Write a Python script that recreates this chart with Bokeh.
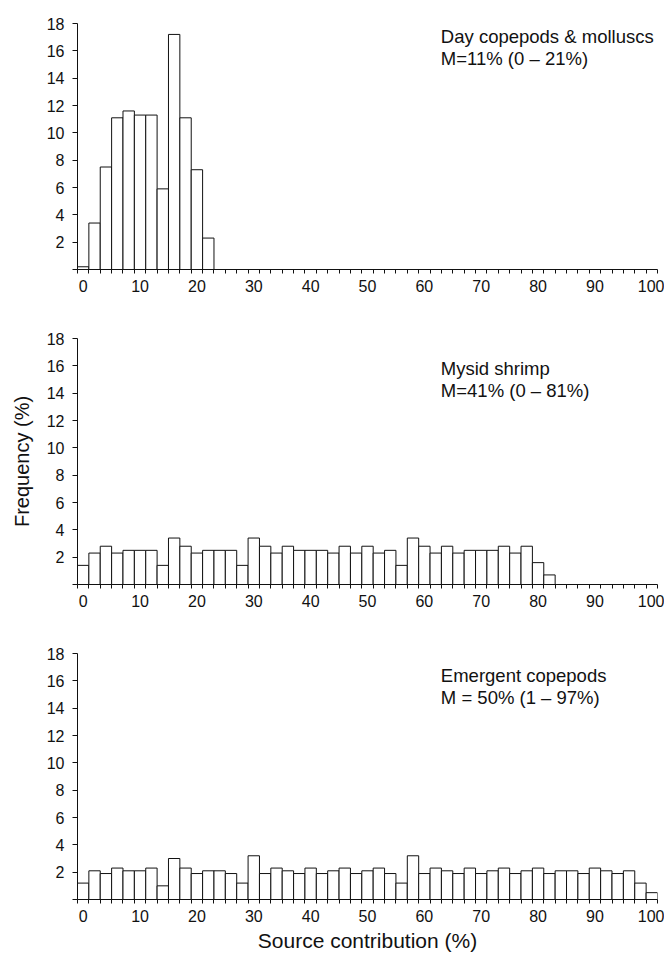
from bokeh.plotting import figure
from bokeh.layouts import column
from bokeh.models import Range1d, FixedTicker, Label, ColumnDataSource
from bokeh.embed import file_html
from bokeh.resources import INLINE

# Category bins (source contribution, %), each bin 2 units wide
day_bins = [0, 2, 4, 6, 8, 10, 12, 14, 16, 18, 20, 22]
day_freq = [0.2, 3.4, 7.5, 11.1, 11.6, 11.3, 11.3, 5.9, 17.2, 11.1, 7.3, 2.3]

mysid_bins = [0, 2, 4, 6, 8, 10, 12, 14, 16, 18, 20, 22, 24, 26, 28, 30, 32, 34,
              36, 38, 40, 42, 44, 46, 48, 50, 52, 54, 56, 58, 60, 62, 64, 66, 68,
              70, 72, 74, 76, 78, 80, 82]
mysid_freq = [1.4, 2.3, 2.8, 2.3, 2.5, 2.5, 2.5, 1.4, 3.4, 2.8,
              2.3, 2.5, 2.5, 2.5, 1.4, 3.4, 2.8, 2.3, 2.8, 2.5,
              2.5, 2.5, 2.3, 2.8, 2.3, 2.8, 2.3, 2.5, 1.4, 3.4,
              2.8, 2.3, 2.8, 2.3, 2.5, 2.5, 2.5, 2.8, 2.3, 2.8,
              1.6, 0.7]

emergent_bins = [0, 2, 4, 6, 8, 10, 12, 14, 16, 18, 20, 22, 24, 26, 28, 30, 32,
                 34, 36, 38, 40, 42, 44, 46, 48, 50, 52, 54, 56, 58, 60, 62, 64,
                 66, 68, 70, 72, 74, 76, 78, 80, 82, 84, 86, 88, 90, 92, 94, 96,
                 98, 100]
emergent_freq = [1.2, 2.1, 1.9, 2.3, 2.1, 2.1, 2.3, 1.0, 3.0, 2.3,
                 1.9, 2.1, 2.1, 1.9, 1.2, 3.2, 1.9, 2.3, 2.1, 1.9,
                 2.3, 1.9, 2.1, 2.3, 1.9, 2.1, 2.3, 1.9, 1.2, 3.2,
                 1.9, 2.3, 2.1, 1.9, 2.3, 1.9, 2.1, 2.3, 1.9, 2.1,
                 2.3, 1.9, 2.1, 2.1, 1.9, 2.3, 2.1, 1.9, 2.1, 1.2,
                 0.5]

x_tick_labels = [0, 10, 20, 30, 40, 50, 60, 70, 80, 90, 100]
y_tick_labels = [0, 2, 4, 6, 8, 10, 12, 14, 16, 18]
bin_edges = [-1] + [b + 1 for b in emergent_bins]

panel_text = [
    ("Day copepods & molluscs", "M=11% (0 \u2013 21%)"),
    ("Mysid shrimp", "M=41% (0 \u2013 81%)"),
    ("Emergent copepods", "M = 50% (1 \u2013 97%)"),
]

FONT = "Liberation Sans"


def make_panel(bins, freq, texts, text_y, height, top, bottom, ylabel=None, xlabel=None):
    p = figure(width=664, height=height, output_backend="svg", toolbar_location=None,
               x_range=Range1d(-1, 101), y_range=Range1d(0, 18),
               min_border_left=77, min_border_right=7, min_border_top=top,
               min_border_bottom=bottom)
    p.outline_line_color = None
    p.xgrid.visible = False
    p.ygrid.visible = False
    p.background_fill_color = "white"
    p.border_fill_color = "white"

    src = ColumnDataSource(dict(x=bins, top=freq))
    p.vbar(x="x", top="top", bottom=0, width=2, source=src,
           fill_color="white", line_color="#111111", line_width=1)

    xa = p.xaxis[0]
    xa.ticker = FixedTicker(ticks=x_tick_labels, minor_ticks=bin_edges)
    xa.major_tick_out = 0
    xa.major_tick_in = 0
    xa.minor_tick_out = 4
    xa.minor_tick_in = 0
    xa.minor_tick_line_color = "#111111"
    xa.axis_line_color = "#111111"
    xa.major_label_text_font = FONT
    xa.major_label_text_font_size = "16px"
    xa.major_label_text_color = "#111111"
    xa.major_label_standoff = 6

    ya = p.yaxis[0]
    ya.ticker = FixedTicker(ticks=y_tick_labels)
    ya.major_label_overrides = {0: ""}
    ya.major_tick_out = 5
    ya.major_tick_in = 0
    ya.minor_tick_out = 0
    ya.minor_tick_in = 0
    ya.major_tick_line_color = "#111111"
    ya.axis_line_color = "#111111"
    ya.major_label_text_font = FONT
    ya.major_label_text_font_size = "16px"
    ya.major_label_text_color = "#111111"
    ya.major_label_standoff = 8

    if ylabel:
        ya.axis_label = ylabel
        ya.axis_label_text_font = FONT
        ya.axis_label_text_font_size = "20px"
        ya.axis_label_text_font_style = "normal"
        ya.axis_label_text_color = "#111111"
        ya.axis_label_standoff = 11
    if xlabel:
        xa.axis_label = xlabel
        xa.axis_label_text_font = FONT
        xa.axis_label_text_font_size = "21px"
        xa.axis_label_text_font_style = "normal"
        xa.axis_label_text_color = "#111111"
        xa.axis_label_standoff = 4

    for t, yy in zip(texts, text_y):
        p.add_layout(Label(x=62.9, y=yy, text=t, text_font=FONT, text_font_size="18.5px",
                           text_color="#111111", text_baseline="middle", text_align="left"))
    return p


p1 = make_panel(day_bins, day_freq, panel_text[0], [17.05, 15.45], 323, 23, 54)
p2 = make_panel(mysid_bins, mysid_freq, panel_text[1], [15.8, 14.2], 315, 15, 54,
                ylabel="Frequency (%)")
p3 = make_panel(emergent_bins, emergent_freq, panel_text[2], [16.4, 14.8], 317, 15, 56,
                xlabel="Source contribution (%)")

layout = column(p1, p2, p3, spacing=0)
open("out.html", "w").write(file_html(layout, INLINE))
